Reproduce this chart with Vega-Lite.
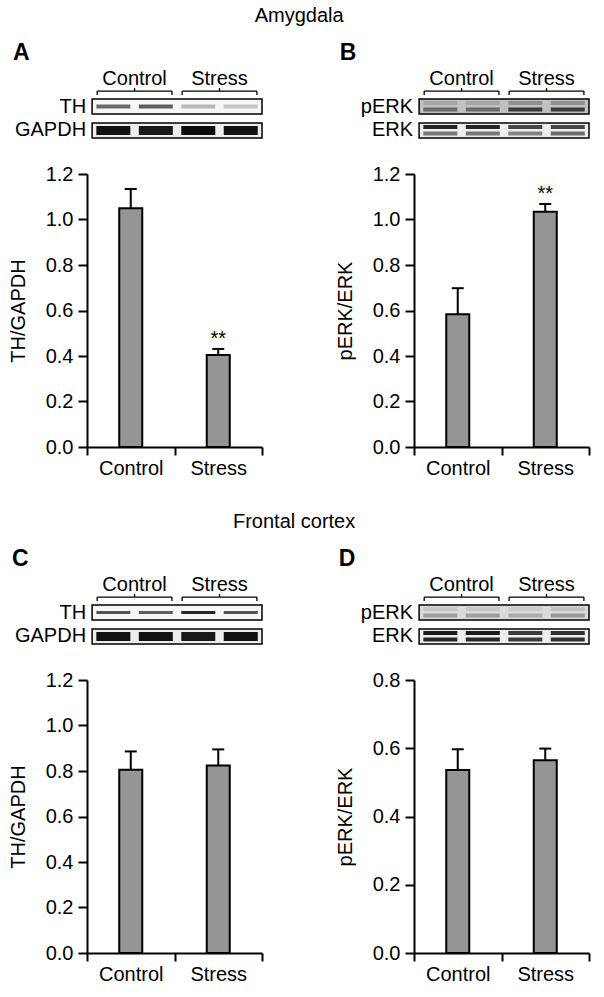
{
"$schema":"https://vega.github.io/schema/vega-lite/v6.json",
"padding":{"left":8,"top":6,"right":5,"bottom":5},
"config":{"view":{"stroke":null},"font":"Liberation Sans",
 "title":{"color":"black","fontWeight":"normal","fontSize":20,"font":"Liberation Sans"},
 "axis":{"domainColor":"black","domainWidth":2,"tickColor":"black","tickWidth":2,"labelColor":"black","labelFont":"Liberation Sans","labelFontSize":20,"titleFont":"Liberation Sans","titleFontSize":20,"titleFontWeight":"normal","titleColor":"black","grid":false},
 "text":{"font":"Liberation Sans","color":"black"}},
"datasets":{
 "bars":[
  {"panel":"A","group":"Control","mean":1.049,"upper":1.134,"sig":""},
  {"panel":"A","group":"Stress","mean":0.404,"upper":0.431,"sig":"**"},
  {"panel":"B","group":"Control","mean":0.583,"upper":0.698,"sig":""},
  {"panel":"B","group":"Stress","mean":1.034,"upper":1.068,"sig":"**"},
  {"panel":"C","group":"Control","mean":0.806,"upper":0.886,"sig":""},
  {"panel":"C","group":"Stress","mean":0.824,"upper":0.895,"sig":""},
  {"panel":"D","group":"Control","mean":0.536,"upper":0.597,"sig":""},
  {"panel":"D","group":"Stress","mean":0.565,"upper":0.599,"sig":""}
 ],
 "boxes":[
  {"panel":"A","row":1,"protein":"TH","level":0.03},
  {"panel":"A","row":2,"protein":"GAPDH","level":0.06},
  {"panel":"B","row":1,"protein":"pERK","level":0.22},
  {"panel":"B","row":2,"protein":"ERK","level":0.06},
  {"panel":"C","row":1,"protein":"TH","level":0.03},
  {"panel":"C","row":2,"protein":"GAPDH","level":0.06},
  {"panel":"D","row":1,"protein":"pERK","level":0.13},
  {"panel":"D","row":2,"protein":"ERK","level":0.06}
 ],
 "bands":[
  {"panel":"A","row":1,"lane":1,"mig":"thin","level":0.55},
  {"panel":"A","row":1,"lane":2,"mig":"thin","level":0.6},
  {"panel":"A","row":1,"lane":3,"mig":"thin","level":0.25},
  {"panel":"A","row":1,"lane":4,"mig":"thin","level":0.2},
  {"panel":"A","row":2,"lane":1,"mig":"thick","level":0.95},
  {"panel":"A","row":2,"lane":2,"mig":"thick","level":0.92},
  {"panel":"A","row":2,"lane":3,"mig":"thick","level":0.97},
  {"panel":"A","row":2,"lane":4,"mig":"thick","level":0.95},
  {"panel":"B","row":1,"lane":1,"mig":"upper","level":0.32},
  {"panel":"B","row":1,"lane":2,"mig":"upper","level":0.32},
  {"panel":"B","row":1,"lane":3,"mig":"upper","level":0.4},
  {"panel":"B","row":1,"lane":4,"mig":"upper","level":0.4},
  {"panel":"B","row":1,"lane":1,"mig":"lower","level":0.55},
  {"panel":"B","row":1,"lane":2,"mig":"lower","level":0.55},
  {"panel":"B","row":1,"lane":3,"mig":"lower","level":0.75},
  {"panel":"B","row":1,"lane":4,"mig":"lower","level":0.75},
  {"panel":"B","row":2,"lane":1,"mig":"upper","level":0.85},
  {"panel":"B","row":2,"lane":2,"mig":"upper","level":0.85},
  {"panel":"B","row":2,"lane":3,"mig":"upper","level":0.7},
  {"panel":"B","row":2,"lane":4,"mig":"upper","level":0.7},
  {"panel":"B","row":2,"lane":1,"mig":"lower","level":0.5},
  {"panel":"B","row":2,"lane":2,"mig":"lower","level":0.5},
  {"panel":"B","row":2,"lane":3,"mig":"lower","level":0.45},
  {"panel":"B","row":2,"lane":4,"mig":"lower","level":0.55},
  {"panel":"C","row":1,"lane":1,"mig":"thin","level":0.65},
  {"panel":"C","row":1,"lane":2,"mig":"thin","level":0.6},
  {"panel":"C","row":1,"lane":3,"mig":"thin","level":0.85},
  {"panel":"C","row":1,"lane":4,"mig":"thin","level":0.65},
  {"panel":"C","row":2,"lane":1,"mig":"thick","level":0.95},
  {"panel":"C","row":2,"lane":2,"mig":"thick","level":0.95},
  {"panel":"C","row":2,"lane":3,"mig":"thick","level":0.92},
  {"panel":"C","row":2,"lane":4,"mig":"thick","level":0.95},
  {"panel":"D","row":1,"lane":1,"mig":"upper","level":0.2},
  {"panel":"D","row":1,"lane":2,"mig":"upper","level":0.2},
  {"panel":"D","row":1,"lane":3,"mig":"upper","level":0.18},
  {"panel":"D","row":1,"lane":4,"mig":"upper","level":0.22},
  {"panel":"D","row":1,"lane":1,"mig":"lower","level":0.35},
  {"panel":"D","row":1,"lane":2,"mig":"lower","level":0.35},
  {"panel":"D","row":1,"lane":3,"mig":"lower","level":0.3},
  {"panel":"D","row":1,"lane":4,"mig":"lower","level":0.38},
  {"panel":"D","row":2,"lane":1,"mig":"upper","level":0.9},
  {"panel":"D","row":2,"lane":2,"mig":"upper","level":0.9},
  {"panel":"D","row":2,"lane":3,"mig":"upper","level":0.75},
  {"panel":"D","row":2,"lane":4,"mig":"upper","level":0.8},
  {"panel":"D","row":2,"lane":1,"mig":"lower","level":0.85},
  {"panel":"D","row":2,"lane":2,"mig":"lower","level":0.85},
  {"panel":"D","row":2,"lane":3,"mig":"lower","level":0.75},
  {"panel":"D","row":2,"lane":4,"mig":"lower","level":0.8}
 ],
 "groups":[
  {"group":"Control","center":1.5,"start":0.62,"end":2.38},
  {"group":"Stress","center":3.5,"start":2.62,"end":4.38}
 ]
},
"spacing":34,
"vconcat":[
 {"title":{"text":"Amygdala","frame":"bounds","anchor":"middle","offset":16},"spacing":72,"hconcat":[
  {"spacing":36,"bounds":"flush","vconcat":[
   {"width":175,"height":39,"title":{"text":"A","anchor":"start","fontSize":23,"fontWeight":"bold","dx":-2},
    "layer":[
     {"data":{"name":"boxes"},"transform":[{"filter":"datum.panel==='A'"}],"mark":{"type":"rect","stroke":"black","strokeWidth":1.5},"encoding":{"x":{"datum":0.5,"type":"quantitative","scale":{"domain":[0.38,4.5],"nice":false,"zero":false},"axis":null},"x2":{"datum":4.5},"y":{"field":"row","type":"ordinal","scale":{"paddingInner":0.37,"paddingOuter":0},"axis":null},"color":{"field":"level","type":"quantitative","scale":{"domain":[0,1],"range":["#ffffff","#000000"]},"legend":null}}},
     {"data":{"name":"bands"},"transform":[{"filter":"datum.panel==='A' && datum.mig==='thin'"}],"mark":{"type":"tick","orient":"horizontal","size":34,"thickness":4,"opacity":1},"encoding":{"x":{"field":"lane","type":"quantitative"},"y":{"field":"row","type":"ordinal"},"color":{"field":"level","type":"quantitative"}}},
     {"data":{"name":"bands"},"transform":[{"filter":"datum.panel==='A' && datum.mig==='thick'"}],"mark":{"type":"tick","orient":"horizontal","size":34,"thickness":9,"opacity":1},"encoding":{"x":{"field":"lane","type":"quantitative"},"y":{"field":"row","type":"ordinal"},"color":{"field":"level","type":"quantitative"}}},
     {"data":{"name":"boxes"},"transform":[{"filter":"datum.panel==='A'"}],"mark":{"type":"text","align":"right","dx":-6,"baseline":"middle","fontSize":20},"encoding":{"x":{"datum":0.5,"type":"quantitative"},"y":{"field":"row","type":"ordinal"},"text":{"field":"protein"}}},
     {"data":{"name":"groups"},"mark":{"type":"text","fontSize":20,"baseline":"alphabetic","yOffset":-21.5},"encoding":{"x":{"field":"center","type":"quantitative"},"y":{"datum":1,"type":"ordinal"},"text":{"field":"group"}}},
     {"data":{"name":"groups"},"mark":{"type":"rule","strokeWidth":1.3,"color":"black","yOffset":-15.5},"encoding":{"x":{"field":"start","type":"quantitative"},"x2":{"field":"end"},"y":{"datum":1,"type":"ordinal"}}},
     {"data":{"name":"groups"},"mark":{"type":"tick","orient":"vertical","size":4,"thickness":1.3,"color":"black","opacity":1,"yOffset":-13.5},"encoding":{"x":{"field":"start","type":"quantitative"},"y":{"datum":1,"type":"ordinal"}}},
     {"data":{"name":"groups"},"mark":{"type":"tick","orient":"vertical","size":4,"thickness":1.3,"color":"black","opacity":1,"yOffset":-13.5},"encoding":{"x":{"field":"end","type":"quantitative"},"y":{"datum":1,"type":"ordinal"}}},
     {"data":{"name":"groups"},"mark":{"type":"tick","orient":"vertical","size":3,"thickness":1.3,"color":"black","opacity":1,"yOffset":-17},"encoding":{"x":{"field":"center","type":"quantitative"},"y":{"datum":1,"type":"ordinal"}}}
    ]},
   {"width":175,"height":273,"data":{"name":"bars"},"transform":[{"filter":"datum.panel==='A'"}],
    "encoding":{"x":{"field":"group","type":"nominal","scale":{"paddingInner":0,"paddingOuter":0},"axis":{"title":null,"labelAngle":0,"tickBand":"extent","tickSize":8,"labelPadding":3}},
     "y":{"field":"mean","type":"quantitative","title":"TH/GAPDH","scale":{"domain":[0,1.2],"nice":false},"axis":{"values":[0,0.2,0.4,0.6,0.8,1.0,1.2],"format":".1f","tickSize":9,"labelPadding":5,"titlePadding":17}}},
    "layer":[
     {"mark":{"type":"rule","strokeWidth":2,"color":"black"},"encoding":{"y2":{"field":"upper"}}},
     {"mark":{"type":"bar","width":23,"fill":"#959595","stroke":"black","strokeWidth":2}},
     {"mark":{"type":"tick","orient":"horizontal","size":12,"thickness":2,"color":"black","opacity":1},"encoding":{"y":{"field":"upper","type":"quantitative","title":"TH/GAPDH"}}},
     {"mark":{"type":"text","dy":-4,"baseline":"alphabetic","fontSize":20},"encoding":{"y":{"field":"upper","type":"quantitative","title":"TH/GAPDH"},"text":{"field":"sig"}}}
    ]}
  ]},
  {"spacing":36,"bounds":"flush","vconcat":[
   {"width":175,"height":39,"title":{"text":"B","anchor":"start","fontSize":23,"fontWeight":"bold","dx":-21},
    "layer":[
     {"data":{"name":"boxes"},"transform":[{"filter":"datum.panel==='B'"}],"mark":{"type":"rect","stroke":"black","strokeWidth":1.5},"encoding":{"x":{"datum":0.5,"type":"quantitative","scale":{"domain":[0.38,4.5],"nice":false,"zero":false},"axis":null},"x2":{"datum":4.5},"y":{"field":"row","type":"ordinal","scale":{"paddingInner":0.37,"paddingOuter":0},"axis":null},"color":{"field":"level","type":"quantitative","scale":{"domain":[0,1],"range":["#ffffff","#000000"]},"legend":null}}},
     {"data":{"name":"bands"},"transform":[{"filter":"datum.panel==='B' && datum.mig==='upper'"}],"mark":{"type":"tick","orient":"horizontal","size":34,"thickness":4,"opacity":1,"yOffset":-3.5},"encoding":{"x":{"field":"lane","type":"quantitative"},"y":{"field":"row","type":"ordinal"},"color":{"field":"level","type":"quantitative"}}},
     {"data":{"name":"bands"},"transform":[{"filter":"datum.panel==='B' && datum.mig==='lower'"}],"mark":{"type":"tick","orient":"horizontal","size":34,"thickness":4,"opacity":1,"yOffset":3},"encoding":{"x":{"field":"lane","type":"quantitative"},"y":{"field":"row","type":"ordinal"},"color":{"field":"level","type":"quantitative"}}},
     {"data":{"name":"boxes"},"transform":[{"filter":"datum.panel==='B'"}],"mark":{"type":"text","align":"right","dx":-6,"baseline":"middle","fontSize":20},"encoding":{"x":{"datum":0.5,"type":"quantitative"},"y":{"field":"row","type":"ordinal"},"text":{"field":"protein"}}},
     {"data":{"name":"groups"},"mark":{"type":"text","fontSize":20,"baseline":"alphabetic","yOffset":-21.5},"encoding":{"x":{"field":"center","type":"quantitative"},"y":{"datum":1,"type":"ordinal"},"text":{"field":"group"}}},
     {"data":{"name":"groups"},"mark":{"type":"rule","strokeWidth":1.3,"color":"black","yOffset":-15.5},"encoding":{"x":{"field":"start","type":"quantitative"},"x2":{"field":"end"},"y":{"datum":1,"type":"ordinal"}}},
     {"data":{"name":"groups"},"mark":{"type":"tick","orient":"vertical","size":4,"thickness":1.3,"color":"black","opacity":1,"yOffset":-13.5},"encoding":{"x":{"field":"start","type":"quantitative"},"y":{"datum":1,"type":"ordinal"}}},
     {"data":{"name":"groups"},"mark":{"type":"tick","orient":"vertical","size":4,"thickness":1.3,"color":"black","opacity":1,"yOffset":-13.5},"encoding":{"x":{"field":"end","type":"quantitative"},"y":{"datum":1,"type":"ordinal"}}},
     {"data":{"name":"groups"},"mark":{"type":"tick","orient":"vertical","size":3,"thickness":1.3,"color":"black","opacity":1,"yOffset":-17},"encoding":{"x":{"field":"center","type":"quantitative"},"y":{"datum":1,"type":"ordinal"}}}
    ]},
   {"width":175,"height":273,"data":{"name":"bars"},"transform":[{"filter":"datum.panel==='B'"}],
    "encoding":{"x":{"field":"group","type":"nominal","scale":{"paddingInner":0,"paddingOuter":0},"axis":{"title":null,"labelAngle":0,"tickBand":"extent","tickSize":8,"labelPadding":3}},
     "y":{"field":"mean","type":"quantitative","title":"pERK/ERK","scale":{"domain":[0,1.2],"nice":false},"axis":{"values":[0,0.2,0.4,0.6,0.8,1.0,1.2],"format":".1f","tickSize":9,"labelPadding":5,"titlePadding":17}}},
    "layer":[
     {"mark":{"type":"rule","strokeWidth":2,"color":"black"},"encoding":{"y2":{"field":"upper"}}},
     {"mark":{"type":"bar","width":23,"fill":"#959595","stroke":"black","strokeWidth":2}},
     {"mark":{"type":"tick","orient":"horizontal","size":12,"thickness":2,"color":"black","opacity":1},"encoding":{"y":{"field":"upper","type":"quantitative","title":"pERK/ERK"}}},
     {"mark":{"type":"text","dy":-4,"baseline":"alphabetic","fontSize":20},"encoding":{"y":{"field":"upper","type":"quantitative","title":"pERK/ERK"},"text":{"field":"sig"}}}
    ]}
  ]}
 ]},
 {"title":{"text":"Frontal cortex","frame":"bounds","anchor":"middle","offset":16,"dx":-5},"spacing":72,"hconcat":[
  {"spacing":36,"bounds":"flush","vconcat":[
   {"width":175,"height":39,"title":{"text":"C","anchor":"start","fontSize":23,"fontWeight":"bold","dx":-3},
    "layer":[
     {"data":{"name":"boxes"},"transform":[{"filter":"datum.panel==='C'"}],"mark":{"type":"rect","stroke":"black","strokeWidth":1.5},"encoding":{"x":{"datum":0.5,"type":"quantitative","scale":{"domain":[0.38,4.5],"nice":false,"zero":false},"axis":null},"x2":{"datum":4.5},"y":{"field":"row","type":"ordinal","scale":{"paddingInner":0.37,"paddingOuter":0},"axis":null},"color":{"field":"level","type":"quantitative","scale":{"domain":[0,1],"range":["#ffffff","#000000"]},"legend":null}}},
     {"data":{"name":"bands"},"transform":[{"filter":"datum.panel==='C' && datum.mig==='thin'"}],"mark":{"type":"tick","orient":"horizontal","size":34,"thickness":3,"opacity":1},"encoding":{"x":{"field":"lane","type":"quantitative"},"y":{"field":"row","type":"ordinal"},"color":{"field":"level","type":"quantitative"}}},
     {"data":{"name":"bands"},"transform":[{"filter":"datum.panel==='C' && datum.mig==='thick'"}],"mark":{"type":"tick","orient":"horizontal","size":34,"thickness":9,"opacity":1},"encoding":{"x":{"field":"lane","type":"quantitative"},"y":{"field":"row","type":"ordinal"},"color":{"field":"level","type":"quantitative"}}},
     {"data":{"name":"boxes"},"transform":[{"filter":"datum.panel==='C'"}],"mark":{"type":"text","align":"right","dx":-6,"baseline":"middle","fontSize":20},"encoding":{"x":{"datum":0.5,"type":"quantitative"},"y":{"field":"row","type":"ordinal"},"text":{"field":"protein"}}},
     {"data":{"name":"groups"},"mark":{"type":"text","fontSize":20,"baseline":"alphabetic","yOffset":-21.5},"encoding":{"x":{"field":"center","type":"quantitative"},"y":{"datum":1,"type":"ordinal"},"text":{"field":"group"}}},
     {"data":{"name":"groups"},"mark":{"type":"rule","strokeWidth":1.3,"color":"black","yOffset":-15.5},"encoding":{"x":{"field":"start","type":"quantitative"},"x2":{"field":"end"},"y":{"datum":1,"type":"ordinal"}}},
     {"data":{"name":"groups"},"mark":{"type":"tick","orient":"vertical","size":4,"thickness":1.3,"color":"black","opacity":1,"yOffset":-13.5},"encoding":{"x":{"field":"start","type":"quantitative"},"y":{"datum":1,"type":"ordinal"}}},
     {"data":{"name":"groups"},"mark":{"type":"tick","orient":"vertical","size":4,"thickness":1.3,"color":"black","opacity":1,"yOffset":-13.5},"encoding":{"x":{"field":"end","type":"quantitative"},"y":{"datum":1,"type":"ordinal"}}},
     {"data":{"name":"groups"},"mark":{"type":"tick","orient":"vertical","size":3,"thickness":1.3,"color":"black","opacity":1,"yOffset":-17},"encoding":{"x":{"field":"center","type":"quantitative"},"y":{"datum":1,"type":"ordinal"}}}
    ]},
   {"width":175,"height":273,"data":{"name":"bars"},"transform":[{"filter":"datum.panel==='C'"}],
    "encoding":{"x":{"field":"group","type":"nominal","scale":{"paddingInner":0,"paddingOuter":0},"axis":{"title":null,"labelAngle":0,"tickBand":"extent","tickSize":8,"labelPadding":3}},
     "y":{"field":"mean","type":"quantitative","title":"TH/GAPDH","scale":{"domain":[0,1.2],"nice":false},"axis":{"values":[0,0.2,0.4,0.6,0.8,1.0,1.2],"format":".1f","tickSize":9,"labelPadding":5,"titlePadding":17}}},
    "layer":[
     {"mark":{"type":"rule","strokeWidth":2,"color":"black"},"encoding":{"y2":{"field":"upper"}}},
     {"mark":{"type":"bar","width":23,"fill":"#959595","stroke":"black","strokeWidth":2}},
     {"mark":{"type":"tick","orient":"horizontal","size":12,"thickness":2,"color":"black","opacity":1},"encoding":{"y":{"field":"upper","type":"quantitative","title":"TH/GAPDH"}}},
     {"mark":{"type":"text","dy":-4,"baseline":"alphabetic","fontSize":20},"encoding":{"y":{"field":"upper","type":"quantitative","title":"TH/GAPDH"},"text":{"field":"sig"}}}
    ]}
  ]},
  {"spacing":36,"bounds":"flush","vconcat":[
   {"width":175,"height":39,"title":{"text":"D","anchor":"start","fontSize":23,"fontWeight":"bold","dx":-22},
    "layer":[
     {"data":{"name":"boxes"},"transform":[{"filter":"datum.panel==='D'"}],"mark":{"type":"rect","stroke":"black","strokeWidth":1.5},"encoding":{"x":{"datum":0.5,"type":"quantitative","scale":{"domain":[0.38,4.5],"nice":false,"zero":false},"axis":null},"x2":{"datum":4.5},"y":{"field":"row","type":"ordinal","scale":{"paddingInner":0.37,"paddingOuter":0},"axis":null},"color":{"field":"level","type":"quantitative","scale":{"domain":[0,1],"range":["#ffffff","#000000"]},"legend":null}}},
     {"data":{"name":"bands"},"transform":[{"filter":"datum.panel==='D' && datum.mig==='upper'"}],"mark":{"type":"tick","orient":"horizontal","size":34,"thickness":4,"opacity":1,"yOffset":-3.5},"encoding":{"x":{"field":"lane","type":"quantitative"},"y":{"field":"row","type":"ordinal"},"color":{"field":"level","type":"quantitative"}}},
     {"data":{"name":"bands"},"transform":[{"filter":"datum.panel==='D' && datum.mig==='lower'"}],"mark":{"type":"tick","orient":"horizontal","size":34,"thickness":4,"opacity":1,"yOffset":3},"encoding":{"x":{"field":"lane","type":"quantitative"},"y":{"field":"row","type":"ordinal"},"color":{"field":"level","type":"quantitative"}}},
     {"data":{"name":"boxes"},"transform":[{"filter":"datum.panel==='D'"}],"mark":{"type":"text","align":"right","dx":-6,"baseline":"middle","fontSize":20},"encoding":{"x":{"datum":0.5,"type":"quantitative"},"y":{"field":"row","type":"ordinal"},"text":{"field":"protein"}}},
     {"data":{"name":"groups"},"mark":{"type":"text","fontSize":20,"baseline":"alphabetic","yOffset":-21.5},"encoding":{"x":{"field":"center","type":"quantitative"},"y":{"datum":1,"type":"ordinal"},"text":{"field":"group"}}},
     {"data":{"name":"groups"},"mark":{"type":"rule","strokeWidth":1.3,"color":"black","yOffset":-15.5},"encoding":{"x":{"field":"start","type":"quantitative"},"x2":{"field":"end"},"y":{"datum":1,"type":"ordinal"}}},
     {"data":{"name":"groups"},"mark":{"type":"tick","orient":"vertical","size":4,"thickness":1.3,"color":"black","opacity":1,"yOffset":-13.5},"encoding":{"x":{"field":"start","type":"quantitative"},"y":{"datum":1,"type":"ordinal"}}},
     {"data":{"name":"groups"},"mark":{"type":"tick","orient":"vertical","size":4,"thickness":1.3,"color":"black","opacity":1,"yOffset":-13.5},"encoding":{"x":{"field":"end","type":"quantitative"},"y":{"datum":1,"type":"ordinal"}}},
     {"data":{"name":"groups"},"mark":{"type":"tick","orient":"vertical","size":3,"thickness":1.3,"color":"black","opacity":1,"yOffset":-17},"encoding":{"x":{"field":"center","type":"quantitative"},"y":{"datum":1,"type":"ordinal"}}}
    ]},
   {"width":175,"height":273,"data":{"name":"bars"},"transform":[{"filter":"datum.panel==='D'"}],
    "encoding":{"x":{"field":"group","type":"nominal","scale":{"paddingInner":0,"paddingOuter":0},"axis":{"title":null,"labelAngle":0,"tickBand":"extent","tickSize":8,"labelPadding":3}},
     "y":{"field":"mean","type":"quantitative","title":"pERK/ERK","scale":{"domain":[0,0.8],"nice":false},"axis":{"values":[0,0.2,0.4,0.6,0.8],"format":".1f","tickSize":9,"labelPadding":5,"titlePadding":17}}},
    "layer":[
     {"mark":{"type":"rule","strokeWidth":2,"color":"black"},"encoding":{"y2":{"field":"upper"}}},
     {"mark":{"type":"bar","width":23,"fill":"#959595","stroke":"black","strokeWidth":2}},
     {"mark":{"type":"tick","orient":"horizontal","size":12,"thickness":2,"color":"black","opacity":1},"encoding":{"y":{"field":"upper","type":"quantitative","title":"pERK/ERK"}}},
     {"mark":{"type":"text","dy":-4,"baseline":"alphabetic","fontSize":20},"encoding":{"y":{"field":"upper","type":"quantitative","title":"pERK/ERK"},"text":{"field":"sig"}}}
    ]}
  ]}
 ]}
]
}
